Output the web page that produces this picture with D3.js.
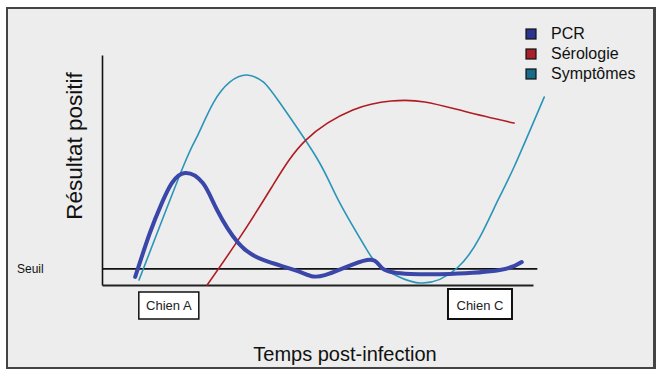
<!DOCTYPE html>
<html>
<head>
<meta charset="utf-8">
<script src="https://cdn.jsdelivr.net/npm/d3@7"></script>
<style>
  body { margin: 0; background: #fff; font-family: Arial, "Liberation Sans", sans-serif; }
</style>
</head>
<body>
<div id="chart"></div>
<script>
// Schematic: diagnostic test positivity over time post-infection.
const SERIES_NAMES = ['PCR', 'Sérologie', 'Symptômes'];
const SERIES_COLORS = ['#3a46a8', '#b01c24', '#2b94b9'];
const LEGEND_COLORS = ['#2b3590', '#a8202a', '#1a6a8a'];

// time (0-100 arbitrary units), level (0-100)
const PCR_T = [7.7, 11.1, 13.9, 16.2, 19.3, 23.4, 26.7, 31.6, 37.4, 45.9, 51.7, 61.5, 65.2, 71.5, 80.7, 92.3, 97.4];
const PCR_V = [3.5, 22.6, 35.7, 44.3, 48.7, 44.3, 32.6, 18.3, 10.9, 5.7, 4.3, 10.9, 7.0, 4.8, 4.8, 6.5, 10.0];

const SERO_T = [24.4, 31.6, 39.4, 47.3, 58.2, 67.1, 74.9, 84.7, 95.6];
const SERO_V = [0, 19.6, 42.6, 63.0, 76.1, 80.0, 79.6, 75.2, 70.4];

const SYMP_T = [8.6, 18.8, 22.0, 25.8, 29.7, 33.6, 37.4, 41.3, 49.9, 54.8, 61.5, 65.2, 73.8, 82.4, 87.7, 91.9, 95.6, 102.6];
const SYMP_V = [2.2, 51.3, 64.3, 79.1, 88.3, 91.3, 88.3, 79.1, 55.0, 37.0, 15.2, 7.4, 0.9, 7.4, 20.9, 37.0, 51.3, 81.7];

const THRESHOLD = 7;
const DOG_LABELS = ['Chien A', 'Chien C'];
const DOG_T = [15.5, 87.7];

const W = 663, H = 377;
const MARGIN = { top: 55, right: 130, bottom: 92, left: 102 };

const svg = d3.select('#chart').append('svg')
  .attr('width', W)
  .attr('height', H);

// outer frame
svg.append('rect')
  .attr('x', 7).attr('y', 8)
  .attr('width', 647).attr('height', 360)
  .attr('fill', '#ecedec')
  .attr('stroke', '#444')
  .attr('stroke-width', 2);
svg.append('line')
  .attr('x1', 654.5).attr('x2', 654.5)
  .attr('y1', 7).attr('y2', 369)
  .attr('stroke', '#444').attr('stroke-width', 3);

const x = d3.scaleLinear().domain([0, 100]).range([0, 431]);
const y = d3.scaleLinear().domain([0, 100]).range([230, 0]);

const g = svg.append('g')
  .attr('transform', `translate(${MARGIN.left},${MARGIN.top})`);

// axes without ticks
g.append('g')
  .call(d3.axisLeft(y).ticks(0).tickSizeOuter(0))
  .select('.domain')
  .attr('stroke', '#111')
  .attr('stroke-width', 1.6);

g.append('g')
  .attr('transform', `translate(0,${y(0)})`)
  .call(d3.axisBottom(x).ticks(0).tickSizeOuter(0))
  .select('.domain')
  .attr('stroke', '#222')
  .attr('stroke-width', 2);

// threshold
g.append('line')
  .attr('x1', x(0)).attr('x2', x(101))
  .attr('y1', y(THRESHOLD)).attr('y2', y(THRESHOLD))
  .attr('stroke', '#111')
  .attr('stroke-width', 1.6);

svg.append('text')
  .attr('x', 17)
  .attr('y', MARGIN.top + y(THRESHOLD) + 4)
  .style('font-size', '12px')
  .style('fill', '#111')
  .text('Seuil');

const line = d3.line()
  .x(d => x(d[0]))
  .y(d => y(d[1]))
  .curve(d3.curveNatural);

const series = [
  { t: SYMP_T, v: SYMP_V, color: SERIES_COLORS[2], width: 1.6 },
  { t: SERO_T, v: SERO_V, color: SERIES_COLORS[1], width: 1.6 },
  { t: PCR_T, v: PCR_V, color: SERIES_COLORS[0], width: 4 }
];

series.forEach(s => {
  g.append('path')
    .datum(d3.zip(s.t, s.v))
    .attr('d', line)
    .attr('fill', 'none')
    .attr('stroke', s.color)
    .attr('stroke-width', s.width)
    .attr('stroke-linecap', 'round');
});

// dog boxes under the x axis
const boxW = [60, 64];
DOG_LABELS.forEach((lab, i) => {
  const cx = x(DOG_T[i]);
  const bg = g.append('g').attr('transform', `translate(${cx},${y(0)})`);
  bg.append('rect')
    .attr('x', -boxW[i] / 2)
    .attr('y', i === 0 ? 7 : 4)
    .attr('width', boxW[i])
    .attr('height', i === 0 ? 27 : 30)
    .attr('fill', '#fff')
    .attr('stroke', '#111')
    .attr('stroke-width', i === 0 ? 1.5 : 2);
  bg.append('text')
    .attr('x', 0)
    .attr('y', 25)
    .attr('text-anchor', 'middle')
    .style('font-size', '13px')
    .style('fill', '#222')
    .text(lab);
});

// axis titles
svg.append('text')
  .attr('x', 345)
  .attr('y', 361)
  .attr('text-anchor', 'middle')
  .style('font-size', '20px')
  .style('fill', '#111')
  .text('Temps post-infection');

svg.append('text')
  .attr('transform', 'translate(82,146) rotate(-90)')
  .attr('text-anchor', 'middle')
  .style('font-size', '22.5px')
  .style('fill', '#111')
  .text('Résultat positif');

// legend
const legend = svg.append('g').attr('transform', 'translate(526,29)');
SERIES_NAMES.forEach((name, i) => {
  const row = legend.append('g').attr('transform', `translate(0,${i * 20})`);
  row.append('rect')
    .attr('width', 10).attr('height', 10)
    .attr('fill', LEGEND_COLORS[i])
    .attr('stroke', '#111')
    .attr('stroke-width', 1.2);
  row.append('text')
    .attr('x', 25)
    .attr('y', 10)
    .style('font-size', '16px')
    .style('fill', '#111')
    .text(name);
});
</script>
</body>
</html>
